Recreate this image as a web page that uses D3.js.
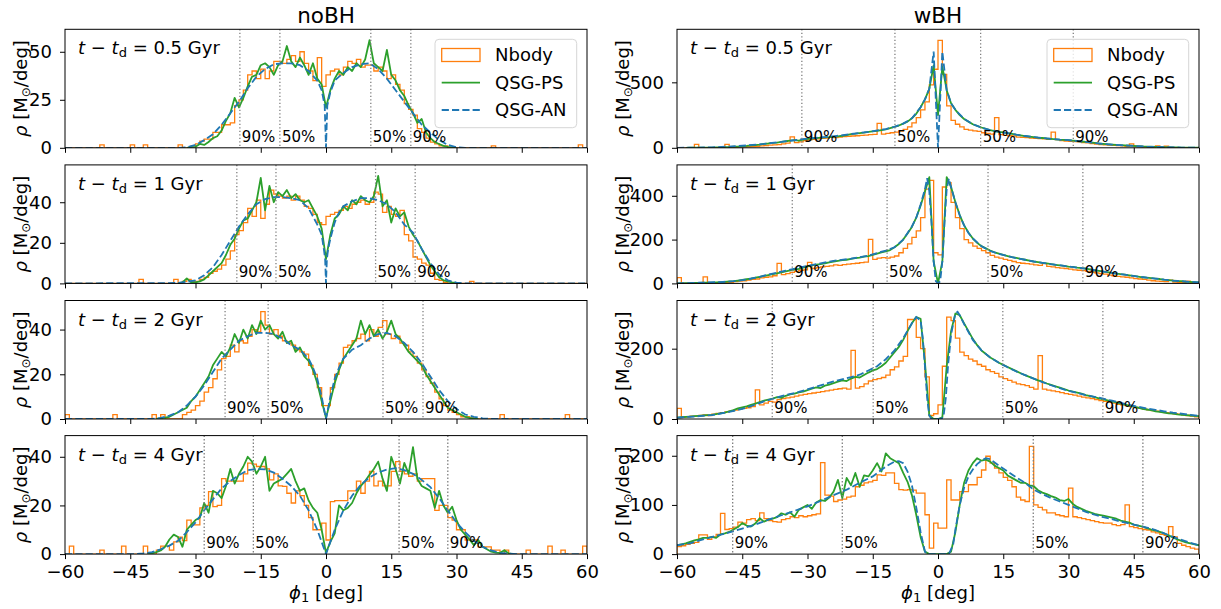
<!DOCTYPE html>
<html>
<head>
<meta charset="utf-8">
<script src="https://cdn.jsdelivr.net/npm/d3@7"></script>
<style>
  body { margin: 0; background: #fff; }
  svg text { font-family: "DejaVu Sans", sans-serif; white-space: pre; }
</style>
</head>
<body>
<svg id="chart" width="1221" height="609"></svg>
<script>
// ---------------------------------------------------------------------------
// data
// ---------------------------------------------------------------------------
const TIMES = ['0.5', '1', '2', '4'];
const BIN_EDGES = d3.range(-60, 61, 1);   // N-body histogram bin edges [deg]
const PS_PHI = d3.range(-60, 61, 1);      // QSG-PS sample points [deg]
const X_TICKS = [-60, -45, -30, -15, 0, 15, 30, 45, 60];
const QUANT_LABELS = ['90%', '50%', '50%', '90%'];

const ytop_noBH = [61.7, 58.4, 53, 48.7];
const yticks_noBH = [[0, 25, 50], [0, 20, 40], [0, 20, 40], [0, 20, 40]];
const ytop_wBH = [905, 541, 337, 241];
const yticks_wBH = [[0, 500], [0, 200, 400], [0, 200], [0, 100, 200]];

// ---- noBH, 0.5 Gyr
const nbody_noBH_05 = [0,0,0,0,0,0,0,0,1.5,0, 0,0,0,0,0,1.5,0,0,1.5,0, 0,0,0,0,0,0,1.5,0,0,1,
  2,3.5,4.5,4.5,8,8,12,12,13,22, 25,30,38,40,36,41,36,40,45,45, 44,46,48,45,50,44,40,35,47,32,
  38,40,41,38,42,45,44,46,42,43, 43,40,42,40,36,38,33,30,23,20, 17,10,8,5,3,2,1,1,0,0,
  0,0,0,0,0,0,0,0,1,0, 0,0,0,0,0,0,0,0,0,0, 0,0,0,0,0,0,0,0,1.5,0];
const ps_noBH_05 = [0,0,0,0,0,0,0,0,0,0, 0,0,0,0,0,0,0,0,0,0, 0,0,0,0,0,0,0,0,0,0.3,
  0.5,2,1.5,3,5,6,9,14,18,26, 21,26,32,37,38,43,44,42,38,43, 45,53,45,42,47,43,38,44,36,33,
  21,30,36,40,38,42,40,44,42,46, 56,44,42,40,51,38,35,30,27,22, 18,13,15,8,5,3,2,1,0.5,0.2,
  0,0,0,0,0,0,0,0,0,0, 0,0,0,0,0,0,0,0,0,0, 0,0,0,0,0,0,0,0,0,0, 0];
const an_phi_noBH_05 = [-60,-34,-32,-30,-28,-26,-24,-22,-20,-18,-16,-14,-12,-10,-8,-6,-4,-2,-1,-0.3,
  0,0.3,1,2,4,6,8,10,12,14,16,18,20,22,24,26,28,30,32,34,60];
const an_rho_noBH_05 = [0,0,0.3,1.5,4,7,12,18,24,31,37,41,43.5,44,44,43,40,35,30,22,
  0,22,29,35,39,42,43.5,44,41,36,30,24,18,12,8,4,1.5,0.3,0,0,0];
const quant_noBH_05 = [-19.8, -10.6, 10.3, 19.5];

// ---- noBH, 1 Gyr
const nbody_noBH_1 = [0,0,0,0,0,0,0,0,0,0, 0,0,0,0,0,0,0,2,0,0, 0,0,0,0,0,2,0,1,2,1,
  1,2,3,5,6,7,9,12,16,24, 26,30,37,33,41,32,39,46,44,43, 42,43,41,43,41,38,37,34,30,29,
  33,34,35,36,38,37,39,40,41,39, 40,45,44,35,38,34,33,36,24,21, 13,12,10,9,5,2,1.5,0.5,0,0,
  0,0,0,1,0,0,0,0,0,0, 0,0,0,0,0,0,0,0,0,0, 0,0,0,0,0,0,0,0,0,0];
const ps_noBH_1 = [0,0,0,0,0,0,0,0,0,0, 0,0,0,0,0,0,0,0,0,0, 0,0,0,0,0,0,0,0.5,2.5,0.5,
  0.5,1,2,4,6,8,10,14,19,22, 27,31,32,36,40,52,36,48,40,45, 43,46,42,44,41,40,41,37,33,27,
  12,24,32,34,38,36,41,39,43,41, 40,43,53,38,41,30,37,33,35,28, 24,21,17,13,9,6,3,1.5,1,0.5,
  0.2,0,0,0,0,0,0,0,0,0, 0,0,0,0,0,0,0,0,0,0, 0,0,0,0,0,0,0,0,0,0, 0];
const an_phi_noBH_1 = [-60,-34,-32,-30,-28,-26,-24,-22,-20,-18,-16,-14,-12,-10,-8,-6,-4,-3,-2,-1,
  -0.5,-0.2,0,0.2,0.5,1,2,3,4,6,8,10,12,14,16,18,20,22,24,26,28,30,32,60];
const an_rho_noBH_1 = [0,0.2,0.8,1.5,4,8,14,21,28,34,39,41.5,42.5,42.5,42,41,37,33,29,24,
  17,12,0,12,17,22,30,35,38,40.5,42,42,41,39,35,29,25,17,10,4.5,1.5,0.4,0,0];
const quant_noBH_1 = [-20.5, -11.5, 11.4, 20.5];

// ---- noBH, 2 Gyr
const nbody_noBH_2 = [2,0,0,0,0,0,0,0,0,0, 0,2,0,0,0,0,0,0,0,0, 2,0,2,0,0,0,0,2,3,4,
  6,8,12,14,18,22,27,28,33,30, 35,34,37,40,39,48,42,38,40,37, 35,34,33,31,30,29,24,20,14,6,
  6,14,20,25,32,33,35,36,38,35, 40,37,41,44,38,36,37,34,33,30, 28,25,22,19,16,12,9,6,4,3,
  2,1,1,0.5,0,0,0,0,0,0, 2,0,0,0,0,0,0,0,0,0, 0,0,0,0,0,2,0,0,0,0];
const ps_noBH_2 = [0,0,0,0,0,0,0,0,0,0, 0,0,0,0,0,0,0,0,0,0, 0,0,0.3,0.6,1,2,3,4,5,8,
  10,13,16,19,24,27,30,28,32,38, 34,40,36,42,38,44,40,42,38,36, 39,34,35,30,32,28,26,22,16,8,
  0.5,8,16,22,27,30,33,36,44,38, 42,37,40,36,39,44,38,36,33,30, 28,26,24,20,17,14,11,8,5,4,
  3,2,1,0.5,0.2,0,0,0,0,0, 0,0,0,0,0,0,0,0,0,0, 0,0,0,0,0,0,0,0,0,0, 0];
const an_phi_noBH_2 = [-60,-40,-38,-36,-34,-32,-30,-28,-26,-24,-22,-20,-18,-16,-14,-12,-10,-8,-6,-4,
  -3,-2,-1,0,1,2,3,4,6,8,10,12,14,16,18,20,22,24,26,28,30,32,34,36,38,60];
const an_rho_noBH_2 = [0,0,0.5,1.5,3,6,10,15,21,27,31,35,37,38.5,38.5,38,36,33,31,27,
  23,18,10,0,10,18,23,27,31,33,36,38,38.5,37,34,30,25,19,13,8,4.5,2,1,0.3,0,0];
const quant_noBH_2 = [-23.2, -13.3, 13.1, 22.3];

// ---- noBH, 4 Gyr
const nbody_noBH_4 = [0,3.3,0,0,0,0,0,0,1.6,0, 0,0,0,3.3,0,0,0,0,3.3,0, 0,1.6,3.3,3.3,1.6,5,7,5.5,14,12,
  12,19,20,25.7,19.5,20,31,30,30,30, 30,33,37.4,37,36,36,35,30.5,33,28, 27.8,25,21,26,24,20,15,10,10,12.7,
  5.8,21.6,22,22,22,26,26,30,25,30, 34,28,30,28,28,34,38,34,33,32, 33,30,31,31,31,18,20,20,15,14,
  10,10,5.8,5.8,5.8,3,3,3,1.6,1.6, 0,1.6,0,0,0,0,1.6,0,0,0, 0,3.3,0,0,1.6,0,0,0,0,3.3];
const ps_noBH_4 = [0,0,0,0,0,0,0,0,0,0, 0,0,0,0,0,0,0,0,0,0, 0.3,0.8,1.5,3,6,8,7,3,10,12,
  14,15,21,17,26,25,23,28,35,29, 33,36,40,38,33,36,40,26,29,30, 31,33,35,30,26,27,22,19,17,10,
  0.5,5,8.5,20,18,19,21,25,28,30, 32.6,35,38,31,26,40,35,29,37.5,33, 44,31,28,27,26,19,26,20,17,19.5,
  14,10,8,6,3.7,5.8,3,2,1,0.6, 0.5,1.6,0.3,0,0,0,0,0,0,0, 0,0,0,0,0,0,0,0,0,0, 0];
const an_phi_noBH_4 = [-60,-44,-42,-40,-38,-36,-34,-32,-30,-28,-26,-24,-22,-20,-18,-16,-14,-12,-10,-8,
  -6,-4,-2,-1,0,1,2,4,6,8,10,12,14,16,18,20,22,24,26,28,30,32,34,36,38,40,42,44,60];
const an_rho_noBH_4 = [0,0,0.3,0.8,2,3.5,5.5,9,13,18,22.5,27,30,32.5,34.5,35,34.8,33.5,31,28,
  24,18,10,5,0,5,10,18,24,28.5,31.5,33.5,34.8,35.3,34.5,33,30.5,27.5,23,18,13,9,5.5,3,1.5,0.5,0.2,0,0];
const quant_noBH_4 = [-28.0, -16.7, 16.8, 28.0];

// ---- wBH, 0.5 Gyr
const nbody_wBH_05 = [0,0,0,0,26,0,0,0,0,0, 0,26,0,3,5,6,8,10,12,14, 16,20,22,25,30,35,84,40,45,55,
  60,65,68,72,75,80,78,82,85,88, 90,92,95,97,100,102,186,105,110,115, 120,128,140,160,190,230,290,350,480,600,
  820,560,320,210,180,160,140,135,130,125, 115,110,105,230,100,95,92,90,82,80, 78,75,72,70,68,65,120,62,55,52,
  50,48,45,40,38,32,28,25,22,20, 18,16,14,12,30,10,10,8,6,5, 15,4,12,3,2,1,0,0,0,0];
const ps_wBH_05 = [0,0,0,0.5,1,1,1.5,2,2,3, 4,5,6,8,9,11,14,18,20,24, 30,33,37,40,45,50,55,58,55,63,
  68,71,74,77,79,82,86,88,92,97, 105,108,112,116,122,126,130,135,140,150, 160,170,185,200,225,260,310,370,450,630,
  250,620,440,340,290,250,220,200,180,168, 155,145,135,128,122,117,112,106,100,95, 90,86,82,78,75,71,68,65,62,60,
  58,55,52,48,45,41,37,33,30,27, 25,22,20,18,16,14,12,10,9,8, 7,6,5,4,3,3,2,2,1,1, 1];
const an_phi_wBH_05 = [-60,-56,-52,-48,-44,-40,-36,-32,-28,-24,-20,-16,-12,-10,-8,-6,-4,-3,-2,-1,
  0,1,2,3,4,6,8,10,12,14,16,18,20,22,24,26,28,30,32,34,36,38,40,44,48,52,56,60];
const an_rho_wBH_05 = [0,1,4,9,18,30,45,63,76,88,105,122,143,160,185,225,310,370,450,735,
  0,735,440,340,290,220,180,155,135,122,112,100,90,82,75,68,62,58,52,45,37,30,25,16,9,5,2,1];
const quant_wBH_05 = [-31.3, -9.9, 9.8, 31.1];

// ---- wBH, 1 Gyr
const nbody_wBH_1 = [26,0,0,0,0,0,30,0,2,2, 3,4,5,8,10,12,15,18,20,25, 28,30,35,91,40,45,50,55,60,62,
  96,68,72,75,78,80,85,82,86,88, 90,92,95,97,201,110,115,118,115,120, 125,140,160,180,210,240,300,430,470,140,
  130,440,460,370,300,250,200,185,170,160, 150,140,128,120,115,110,105,100,95,92, 90,88,85,82,90,78,75,72,70,68,
  65,62,60,58,55,52,48,45,42,38, 35,32,30,28,25,22,20,18,15,12, 10,9,8,15,6,5,4,10,3,2];
const ps_wBH_1 = [0,0.5,1,1,2,2,3,3,4,5, 6,7,9,10,13,16,19,22,26,30, 34,38,42,46,50,55,60,63,66,72,
  78,82,86,88,92,96,100,103,106,108, 112,115,118,122,125,130,136,142,146,152, 165,180,200,228,258,300,355,420,485,100,
  0,100,485,440,370,312,265,232,205,185, 170,160,150,142,136,130,125,120,116,112, 108,104,100,97,94,91,88,85,82,80,
  77,75,72,70,67,64,60,57,54,51, 48,45,42,40,37,34,31,28,26,24, 22,20,17,15,13,11,10,8,7,6, 5];
const an_phi_wBH_1 = [-60,-55,-50,-47,-44,-41,-38,-35,-32,-28,-24,-20,-16,-12,-10,-8,-7,-6,-5,-4,
  -3,-2.5,-2,-1.5,-1,-0.5,0,0.5,1,1.5,2,2.5,3,4,5,6,7,8,10,12,14,16,18,20,22,24,26,28,30,32,34,36,38,40,
  42,44,46,48,50,52,54,56,58,60];
const an_rho_wBH_1 = [0,3,6,10,18,30,45,58,72,88,103,113,127,150,165,200,230,260,300,360,
  430,480,420,280,100,10,0,10,100,280,430,478,440,370,310,265,230,205,170,148,135,125,115,108,100,94,88,83,77,72,67,60,54,48,
  42,37,31,26,22,17,13,10,7,5];
const quant_wBH_1 = [-33.5, -11.7, 11.5, 33.3];

// ---- wBH, 2 Gyr
const nbody_wBH_2 = [30,5,6,8,8,10,12,10,14,16, 18,20,22,25,28,30,32,35,83,40, 45,50,48,55,58,60,62,65,68,70,
  72,74,76,78,80,82,84,86,88,85, 195,88,92,100,108,112,115,118,125,140, 148,165,178,283,283,232,200,120,10,15,
  40,150,290,280,230,190,180,170,165,155, 150,140,135,130,120,115,110,105,100,98, 95,90,85,180,85,82,80,78,75,72,
  70,68,65,62,60,58,55,52,50,48, 45,42,40,38,35,33,30,28,26,24, 22,20,18,17,15,14,12,10,8,6];
const ps_wBH_2 = [4,5,6,7,8,9,10,11,12,14, 16,18,22,25,30,33,36,40,44,48, 52,55,58,62,60,66,70,72,76,78,
  82,86,90,88,95,98,102,106,110,108, 115,120,118,125,132,138,142,150,160,175, 190,205,225,250,272,290,285,160,10,0,
  0,5,150,250,300,295,272,250,228,210, 195,185,175,168,160,154,148,142,136,130, 125,120,115,110,106,101,97,93,89,85,
  81,78,75,72,68,65,62,59,56,53, 50,47,44,41,38,35,32,29,27,25, 22,20,18,16,15,13,12,11,10,9, 8];
const an_phi_wBH_2 = [-60,-56,-52,-48,-44,-40,-36,-32,-28,-24,-20,-18,-16,-14,-12,-10,-8,-6,-5,-4,
  -3.5,-3,-2.5,-2,-1.5,0.8,1.3,1.8,2.3,3,4,4.5,5,6,8,10,12,14,16,18,20,22,24,26,28,30,32,34,36,38,
  40,42,44,46,48,50,52,54,56,58,60];
const an_rho_wBH_2 = [4,7,11,20,32,50,65,77,92,107,119,126,138,150,170,195,230,272,290,280,
  230,150,60,10,0,0,10,60,150,240,300,305,295,270,225,195,175,160,147,135,125,115,105,96,88,80,74,68,63,58,
  52,46,40,35,30,26,22,18,15,12,9];
const quant_wBH_2 = [-38.1, -14.9, 14.9, 37.9];

// ---- wBH, 4 Gyr
const nbody_wBH_4 = [15,17,20,22,24,39,39,30,35,40, 83,50,52,55,65,63,70,72,68,84, 72,68,66,65,70,72,76,74,78,76,
  78,80,82,186,120,118,107,110,112,116, 118,137,140,145,147,150,161,160,165,165, 144,131,130,131,130,124,124,80,12,63,
  53,53,151,110,110,127,127,141,141,156, 171,199,185,175,165,156,150,137,116,110, 107,219,100,95,90,84,84,80,78,76,
  134,76,74,72,70,68,66,64,63,63, 60,58,60,100,56,54,52,50,49,45, 43,40,38,56,35,22,18,15,12,10];
const ps_wBH_4 = [18,20,22,25,28,30,33,33,35,33, 40,42,45,50,55,63,58,56,62,73, 66,70,72,75,83,80,85,76,90,95,
  100,92,105,110,108,115,127,151,114,155, 140,165,137,160,158,170,185,168,205,195, 190,185,165,147,120,80,35,5,0,0,
  0,0,0,5,45,100,145,170,185,195, 190,192,188,180,175,170,160,155,150,145, 145,140,138,130,125,122,118,115,110,108,
  112,102,96,92,88,85,82,80,78,76, 74,72,68,66,64,60,58,56,53,50, 48,45,42,38,34,30,27,24,22,20, 18];
const an_phi_wBH_4 = [-60,-57,-54,-51,-48,-45,-42,-39,-36,-33,-30,-27,-24,-21,-18,-15,-12,-10,-9,-8,
  -7,-6,-5,-4,-3,-2.5,2.5,3.5,4,5,6,7,8,9,10,11,12,14,16,18,20,22,24,26,28,30,32,34,36,38,
  40,42,44,46,48,50,52,54,56,58,60];
const an_rho_wBH_4 = [18,22,30,37,44,52,60,70,79,88,97,108,120,131,145,158,178,188,189,185,
  168,140,95,45,5,0,0,20,50,100,135,158,172,183,190,195,193,180,168,156,145,131,122,114,107,100,93,86,80,75,
  71,66,62,58,54,49,42,35,29,23,18];
const quant_wBH_4 = [-47.2, -22.0, 21.9, 47.1];

// ---------------------------------------------------------------------------
// layout
// ---------------------------------------------------------------------------
const PANEL_W = 522, PANEL_H = 118.5;
const COL_X = [65, 677];
const ROW_Y = [29.3, 164.9, 300.5, 435.6];
const C_NBODY = '#ff7f0e', C_PS = '#2ca02c', C_AN = '#1f77b4';

const columns = [
  {
    title: 'noBH', ytop: ytop_noBH, yticks: yticks_noBH, ylabelOff: 44,
    nbody: [nbody_noBH_05, nbody_noBH_1, nbody_noBH_2, nbody_noBH_4],
    ps: [ps_noBH_05, ps_noBH_1, ps_noBH_2, ps_noBH_4],
    anPhi: [an_phi_noBH_05, an_phi_noBH_1, an_phi_noBH_2, an_phi_noBH_4],
    anRho: [an_rho_noBH_05, an_rho_noBH_1, an_rho_noBH_2, an_rho_noBH_4],
    quant: [quant_noBH_05, quant_noBH_1, quant_noBH_2, quant_noBH_4]
  },
  {
    title: 'wBH', ytop: ytop_wBH, yticks: yticks_wBH, ylabelOff: 54,
    nbody: [nbody_wBH_05, nbody_wBH_1, nbody_wBH_2, nbody_wBH_4],
    ps: [ps_wBH_05, ps_wBH_1, ps_wBH_2, ps_wBH_4],
    anPhi: [an_phi_wBH_05, an_phi_wBH_1, an_phi_wBH_2, an_phi_wBH_4],
    anRho: [an_rho_wBH_05, an_rho_wBH_1, an_rho_wBH_2, an_rho_wBH_4],
    quant: [quant_wBH_05, quant_wBH_1, quant_wBH_2, quant_wBH_4]
  }
];

const svg = d3.select('#chart');

//----------------------------------------------------------------------------
function trimZeros(pts) {
  const first = pts.findIndex(d => d[1] > 0);
  const last = pts.length - 1 - pts.slice().reverse().findIndex(d => d[1] > 0);
  return pts.slice(Math.max(0, first - 1), Math.min(pts.length, last + 2));
}

//----------------------------------------------------------------------------
function drawPanel(col, c, r) {
  const x0 = COL_X[c], y0 = ROW_Y[r];
  const x = d3.scaleLinear().domain([-60, 60]).range([x0, x0 + PANEL_W]);
  const y = d3.scaleLinear().domain([0, col.ytop[r]]).range([y0 + PANEL_H, y0]);
  const g = svg.append('g');

  const clipId = `clip-${c}-${r}`;
  svg.append('clipPath').attr('id', clipId)
    .append('rect').attr('x', x0).attr('y', y0).attr('width', PANEL_W).attr('height', PANEL_H);
  const plot = g.append('g').attr('clip-path', `url(#${clipId})`);

  const line = d3.line().x(d => x(d[0])).y(d => y(d[1]));

  // N-body step histogram
  const counts = col.nbody[r];
  const stepPts = [[BIN_EDGES[0], 0]];
  counts.forEach((v, i) => { stepPts.push([BIN_EDGES[i], v], [BIN_EDGES[i + 1], v]); });
  stepPts.push([BIN_EDGES[BIN_EDGES.length - 1], 0]);
  plot.append('path')
    .attr('d', line(stepPts))
    .attr('fill', 'none').attr('stroke', C_NBODY).attr('stroke-width', 1.3);

  // QSG-PS
  const psPts = trimZeros(PS_PHI.map((p, i) => [p, col.ps[r][i]]));
  plot.append('path')
    .attr('d', line(psPts))
    .attr('fill', 'none').attr('stroke', C_PS).attr('stroke-width', 1.8)
    .attr('stroke-linejoin', 'round');

  // QSG-AN
  const anPts = col.anPhi[r].map((p, i) => [p, col.anRho[r][i]]);
  plot.append('path')
    .attr('d', line(anPts))
    .attr('fill', 'none').attr('stroke', C_AN).attr('stroke-width', 1.8)
    .attr('stroke-dasharray', '7.2,3.1');

  // quantile markers
  col.quant[r].forEach((q, i) => {
    plot.append('line')
      .attr('x1', x(q)).attr('x2', x(q)).attr('y1', y0).attr('y2', y0 + PANEL_H)
      .attr('stroke', '#7f7f7f').attr('stroke-width', 1.3).attr('stroke-dasharray', '1.3,2.2');
    g.append('text')
      .attr('x', x(q) + 2).attr('y', y0 + PANEL_H - 6)
      .attr('font-size', 15).attr('fill', '#000')
      .text(QUANT_LABELS[i]);
  });

  // axes
  const xAxis = d3.axisBottom(x).tickValues(X_TICKS).tickSize(5).tickPadding(6)
    .tickFormat(r === 3 ? d3.format('d') : '');
  const gx = g.append('g').attr('transform', `translate(0,${y0 + PANEL_H})`).call(xAxis);
  const yAxis = d3.axisLeft(y).tickValues(col.yticks[r]).tickSize(5).tickPadding(8)
    .tickFormat(d3.format('d'));
  const gy = g.append('g').attr('transform', `translate(${x0},0)`).call(yAxis);
  [gx, gy].forEach(a => {
    a.select('.domain').remove();
    a.attr('font-family', null).attr('font-size', null);
    a.selectAll('text').attr('font-size', 18).attr('fill', '#000');
    a.selectAll('line').attr('stroke', '#000').attr('stroke-width', 1);
  });

  // frame
  g.append('rect')
    .attr('x', x0).attr('y', y0).attr('width', PANEL_W).attr('height', PANEL_H)
    .attr('fill', 'none').attr('stroke', '#000').attr('stroke-width', 1);

  // time label
  const t = g.append('text').attr('x', x0 + 13).attr('y', y0 + 25).attr('font-size', 18);
  t.append('tspan').attr('font-style', 'italic').text('t');
  t.append('tspan').text(' \u2212 ');
  t.append('tspan').attr('font-style', 'italic').text('t');
  t.append('tspan').attr('font-size', 13).attr('dy', 3).text('d');
  t.append('tspan').attr('dy', -3).text(' = ' + TIMES[r] + ' Gyr');

  // y label
  const yl = g.append('text')
    .attr('transform', `translate(${x0 - col.ylabelOff},${y0 + PANEL_H / 2}) rotate(-90)`)
    .attr('text-anchor', 'middle').attr('dy', '0.35em').attr('font-size', 18);
  yl.append('tspan').attr('font-style', 'italic').text('ρ');
  yl.append('tspan').text(' [M');
  yl.append('tspan').attr('font-size', 12).attr('dy', 3).text('\u2299');
  yl.append('tspan').attr('dy', -3).text('/deg]');

  if (r === 0) {
    drawLegend(g, x0 + PANEL_W - 10.3 - 141.7, y0 + 10);
    g.append('text')
      .attr('x', x0 + PANEL_W / 2).attr('y', 23)
      .attr('text-anchor', 'middle').attr('font-size', 21.5)
      .text(col.title);
  }
  if (r === 3) {
    const xl = g.append('text')
      .attr('x', x0 + PANEL_W / 2).attr('y', 599)
      .attr('text-anchor', 'middle').attr('font-size', 18);
    xl.append('tspan').attr('font-style', 'italic').text('ϕ');
    xl.append('tspan').attr('font-size', 13).attr('dy', 3).text('1');
    xl.append('tspan').attr('dy', -3).text(' [deg]');
  }
}

//----------------------------------------------------------------------------
function drawLegend(g, lx, ly) {
  const lg = g.append('g');
  lg.append('rect')
    .attr('x', lx).attr('y', ly).attr('width', 141.7).attr('height', 88.4)
    .attr('rx', 4).attr('fill', '#fff').attr('fill-opacity', 0.8)
    .attr('stroke', '#d6d6d6').attr('stroke-width', 1);
  const rows = [
    { name: 'Nbody', dy: 15.7 },
    { name: 'QSG-PS', dy: 43.4 },
    { name: 'QSG-AN', dy: 70.7 }
  ];
  const hx0 = lx + 6.7, hx1 = lx + 45;
  lg.append('rect')
    .attr('x', hx0).attr('y', ly + rows[0].dy - 6.5).attr('width', hx1 - hx0).attr('height', 13)
    .attr('fill', 'none').attr('stroke', C_NBODY).attr('stroke-width', 1.3);
  lg.append('line')
    .attr('x1', hx0).attr('x2', hx1).attr('y1', ly + rows[1].dy).attr('y2', ly + rows[1].dy)
    .attr('stroke', C_PS).attr('stroke-width', 1.8);
  lg.append('line')
    .attr('x1', hx0).attr('x2', hx1).attr('y1', ly + rows[2].dy).attr('y2', ly + rows[2].dy)
    .attr('stroke', C_AN).attr('stroke-width', 1.8).attr('stroke-dasharray', '7.2,3.1');
  rows.forEach(rw => {
    lg.append('text')
      .attr('x', lx + 60).attr('y', ly + rw.dy).attr('dy', '0.35em')
      .attr('font-size', 18).text(rw.name);
  });
}

columns.forEach((col, c) => {
  TIMES.forEach((tm, r) => drawPanel(col, c, r));
});
</script>
</body>
</html>
